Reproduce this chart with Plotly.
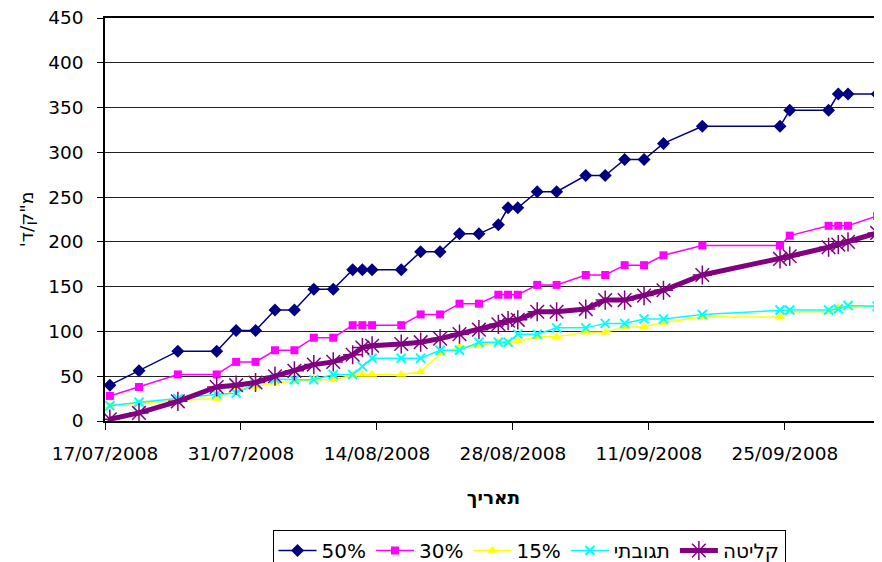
import pandas as pd
import plotly.graph_objects as go

# ---- data ----
dates = ["2008-07-17", "2008-07-20", "2008-07-24", "2008-07-28", "2008-07-30",
         "2008-08-01", "2008-08-03", "2008-08-05", "2008-08-07", "2008-08-09",
         "2008-08-11", "2008-08-12", "2008-08-13", "2008-08-16", "2008-08-18",
         "2008-08-20", "2008-08-22", "2008-08-24", "2008-08-26", "2008-08-27",
         "2008-08-28", "2008-08-30", "2008-09-01", "2008-09-04", "2008-09-06",
         "2008-09-08", "2008-09-10", "2008-09-12", "2008-09-16", "2008-09-24",
         "2008-09-25", "2008-09-29", "2008-09-30", "2008-10-01", "2008-10-04"]

s50 = [40, 56, 78, 78, 101, 101, 124, 124, 147, 147, 169, 169, 169, 169, 189, 189,
       209, 209, 219, 238, 238, 256, 256, 274, 274, 292, 292, 310, 329, 329, 347,
       347, 365, 365, 365]
s30 = [28, 38, 52, 52, 66, 66, 79, 79, 93, 93, 107, 107, 107, 107, 119, 119, 131,
       131, 141, 141, 141, 152, 152, 163, 163, 174, 174, 185, 196, 196, 207, 218,
       218, 218, 229]
s15 = [17, 20, 23, 25, 35, 38, 43, 44, 46, 46, 51, 52, 52, 52, 55, 75, 83, 84, 88,
       88, 89, 94, 94, 99, 99, 105, 105, 110, 116, 116, 122, 122, 127, 128, 128]
reactive = [17, 21, 25, 30, 31, 42, 47, 46, 46, 52, 52, 61, 70, 70, 70, 79, 79, 88,
            88, 88, 97, 97, 104, 104, 109, 109, 114, 114, 119, 124, 124, 124, 125,
            129, 128]
absorb = [2, 9, 22, 38, 40, 43, 50, 56, 63, 66, 74, 82, 84, 86, 88, 92, 97, 102,
          108, 112, 113, 122, 122, 125, 135, 135, 140, 146, 163, 181, 184, 194, 197,
          200, 210]

series_names = ["50%", "30%", "15%", "תגובתי", "קליטה"]
tick_dates = ["2008-07-17", "2008-07-31", "2008-08-14", "2008-08-28",
              "2008-09-11", "2008-09-25"]
tick_labels = ["17/07/2008", "31/07/2008", "14/08/2008", "28/08/2008",
               "11/09/2008", "25/09/2008"]
y_title = "מ\"ק/ד'"
x_title = "תאריך"

# points sit in the middle of each day slot (date axis between tick marks)
x = pd.to_datetime(dates) + pd.Timedelta(hours=12)

FONT = "DejaVu Sans, Liberation Sans, Arial, sans-serif"
FS = 18.5

fig = go.Figure()
fig.add_trace(go.Scatter(x=x, y=s50, name=series_names[0], mode="lines+markers",
                         line=dict(color="#000080", width=1.5),
                         marker=dict(symbol="diamond", size=10, color="#000080")))
fig.add_trace(go.Scatter(x=x, y=s30, name=series_names[1], mode="lines+markers",
                         line=dict(color="#FF00FF", width=1.5),
                         marker=dict(symbol="square", size=8, color="#FF00FF")))
fig.add_trace(go.Scatter(x=x, y=s15, name=series_names[2], mode="lines+markers",
                         line=dict(color="#FFFF00", width=1.5),
                         marker=dict(symbol="triangle-up", size=9, color="#FFFF00")))
fig.add_trace(go.Scatter(x=x, y=reactive, name=series_names[3], mode="lines+markers",
                         line=dict(color="#00FFFF", width=1.5),
                         marker=dict(symbol="x-thin-open", size=9,
                                     line=dict(color="#00FFFF", width=2))))
fig.add_trace(go.Scatter(x=x, y=absorb, name=series_names[4], mode="lines+markers",
                         line=dict(color="#800080", width=5),
                         marker=dict(symbol="asterisk-open", size=16,
                                     line=dict(color="#800080", width=1.5))))

fig.update_layout(
    width=874, height=554,
    margin=dict(l=97, r=0, t=10, b=141, autoexpand=False),
    paper_bgcolor="white", plot_bgcolor="white",
    font=dict(family=FONT, size=FS, color="black"),
    showlegend=True,
    legend=dict(orientation="h", x=0.5457, xanchor="center", y=-0.2705, yanchor="top",
                bordercolor="black", borderwidth=1, font=dict(size=20),
                itemwidth=38, tracegroupgap=0),
)
fig.update_xaxes(
    type="date", automargin=False,
    range=[pd.Timestamp("2008-07-17"), pd.Timestamp("2008-10-05")],
    tickvals=pd.to_datetime(tick_dates), ticktext=tick_labels,
    ticks="outside", ticklen=7, tickcolor="black",
    ticklabelstandoff=8,
    showline=True, mirror=True, linecolor="black", linewidth=1.5,
    showgrid=False, zeroline=False,
    title=dict(text="<b>" + x_title + "</b>", standoff=28, font=dict(size=FS)),
)
fig.update_yaxes(
    range=[0, 450], dtick=50, automargin=False,
    ticks="outside", ticklen=6, tickcolor="black",
    ticklabelstandoff=10, ticklabeloverflow="allow",
    showline=True, linecolor="black", linewidth=1.5,
    showgrid=True, gridcolor="#222222", gridwidth=1,
    zeroline=False,
    title=dict(text=y_title + "\u200f", standoff=10, font=dict(size=FS)),
)

fig.write_html("out.html")
